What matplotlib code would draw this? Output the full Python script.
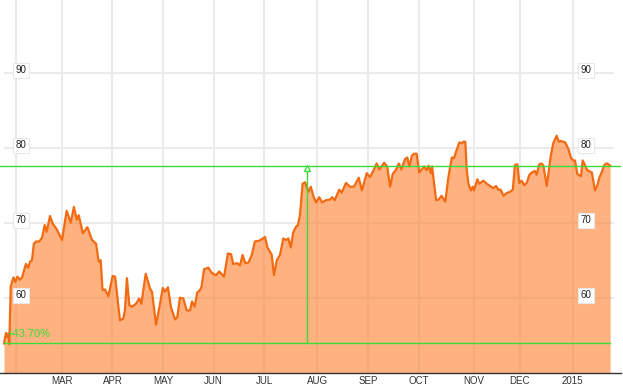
import matplotlib
matplotlib.use("Agg")
import matplotlib.pyplot as plt

plt.rcParams['font.family'] = ['Liberation Sans', 'DejaVu Sans']

# price series, x = trading day index (day 0 ~ late Jan 2014)
days = [0.0, 0.8, 1.4, 1.8, 2.2, 2.8, 3.9, 4.7, 5.5, 6.6, 7.5, 8.3, 9.1, 10.0, 10.8,
        11.6, 12.4, 13.3, 14.6, 15.8, 16.9, 17.7, 19.1, 20.2, 21.9, 24.1, 26.0, 27.7,
        29.0, 30.2, 31.0, 32.7, 34.6, 36.5, 38.2, 39.3, 40.1, 40.9, 41.9, 43.3, 45.1,
        46.1, 48.1, 49.5, 50.2, 51.0, 52.0, 53.1, 54.8, 56.1, 57.0, 58.8, 60.6, 61.4,
        63.1, 64.4, 65.9, 66.8, 68.0, 69.3, 71.0, 71.9, 73.0, 74.4, 75.8, 77.2, 78.0,
        79.1, 80.2, 81.3, 82.0, 83.0, 84.8, 86.2, 88.0, 89.3, 91.3, 92.9, 94.2, 95.1,
        96.8, 97.9, 99.0, 100.1, 101.5, 102.8, 104.1, 105.9, 106.9, 108.3, 109.3,
        111.1, 112.0, 113.2, 114.5, 115.9, 117.0, 118.0, 119.0, 120.0, 121.2, 121.9,
        122.8, 123.9, 124.9, 126.3, 127.3, 128.3, 129.5, 130.8, 132.0, 133.6, 135.3,
        136.1, 137.2, 139.1, 140.1, 141.9, 143.6, 145.2, 147.2, 148.5, 150.5, 151.9,
        153.5, 154.6, 155.7, 156.7, 157.7, 159.0, 160.2, 161.3, 162.7, 163.8, 164.9,
        166.4, 167.3, 168.2, 169.2, 170.1, 171.2, 172.3, 173.3, 174.3, 175.4, 176.2,
        177.1, 177.6, 179.3, 180.4, 181.5, 183.1, 184.4, 185.8, 186.7, 187.6, 188.9,
        189.9, 190.6, 191.4, 192.0, 192.7, 193.7, 194.5, 195.0, 196.4, 197.2, 198.9,
        200.3, 201.7, 203.0, 204.1, 205.1, 206.1, 207.2, 208.8, 209.9, 211.1, 212.0,
        213.0, 213.8, 214.8, 215.8, 216.9, 218.0, 219.0, 220.3, 221.0, 222.1, 223.1,
        223.8, 225.2, 226.8, 227.9, 229.3, 230.2, 231.0, 232.1, 232.9, 234.2, 235.3,
        236.2, 236.9, 237.9, 239.4, 240.1, 241.2, 242.0, 243.9, 245.2, 246.2, 247.0,
        248.1, 248.9, 249.8, 250.4, 251.5]
prices = [53.9, 55.3, 54.8, 55.2, 53.8, 61.5, 62.7, 62.1, 62.8, 62.4, 62.7, 63.6, 64.5,
          64.0, 64.8, 65.0, 67.2, 67.5, 67.5, 68.0, 69.7, 68.8, 70.9, 69.9, 69.1, 67.7,
          71.6, 70.0, 72.1, 70.4, 71.0, 68.6, 69.4, 67.7, 67.2, 64.8, 65.0, 61.0, 61.1,
          60.2, 62.9, 62.8, 57.0, 57.2, 58.4, 62.6, 59.0, 58.8, 59.2, 59.9, 59.2, 63.2,
          61.2, 60.8, 56.4, 58.6, 61.3, 60.8, 61.4, 58.7, 57.1, 57.4, 60.0, 59.9, 58.3,
          58.3, 59.5, 58.8, 60.7, 61.0, 61.5, 63.8, 64.0, 63.3, 63.0, 63.5, 62.8, 65.9,
          65.8, 64.5, 64.6, 64.3, 65.7, 64.6, 64.7, 65.7, 67.5, 67.6, 67.8, 68.1, 66.7,
          65.7, 63.0, 65.0, 65.7, 67.9, 67.7, 67.9, 66.7, 68.7, 69.5, 69.6, 71.0, 75.2,
          75.4, 74.1, 74.8, 73.6, 72.7, 73.4, 72.7, 73.0, 73.1, 73.4, 73.0, 74.4, 74.0,
          75.3, 74.8, 74.8, 76.0, 74.3, 76.6, 76.1, 77.1, 77.9, 77.1, 77.5, 78.0, 77.5,
          74.8, 76.5, 77.1, 77.9, 77.1, 78.5, 78.7, 77.5, 78.9, 79.2, 79.2, 76.7, 77.1,
          77.5, 77.0, 77.6, 76.6, 77.5, 73.0, 73.1, 73.6, 72.8, 76.1, 78.7, 78.6, 79.5,
          80.7, 80.6, 80.8, 80.8, 77.0, 75.2, 74.3, 74.8, 74.3, 75.8, 75.2, 75.6, 75.2,
          74.9, 74.6, 74.9, 74.4, 74.4, 73.6, 74.0, 74.1, 74.4, 77.7, 77.8, 75.3, 75.6,
          75.0, 75.3, 76.4, 76.7, 76.9, 76.4, 77.8, 77.9, 77.6, 74.9, 78.8, 80.6, 81.6,
          80.8, 80.9, 80.8, 80.7, 79.8, 78.6, 78.3, 78.3, 76.5, 76.2, 78.3, 77.6, 77.0,
          76.7, 74.3, 75.0, 76.0, 76.8, 77.6, 77.9, 77.9, 77.6]

month_pos = [5, 24, 45, 66, 87, 108, 130, 151, 172, 195, 214, 236]
month_labels = ['', 'MAR', 'APR', 'MAY', 'JUN', 'JUL', 'AUG', 'SEP', 'OCT', 'NOV', 'DEC', '2015']
y_ticks = [60, 70, 80, 90]

base_price = prices[0]
last_price = prices[-1]
marker_day = 125.7
change_label = '+43.70%'

GREEN = '#38dc38'
GRID = '#ebebeb'

fig = plt.figure(figsize=(6.23, 3.87), dpi=100)
ax = fig.add_axes([0.0, 0.037, 621 / 623, 0.963])
ax.set_xlim(-1.66, 256.0)
ax.set_ylim(50, 99.7)

# grid
for p in month_pos:
    ax.axvline(p, color=GRID, lw=1.5, zorder=0)
for v in y_ticks:
    ax.axhline(v, xmin=0.008, xmax=0.987, color=GRID, lw=1.5, zorder=0)

ax.fill_between(days, prices, 50, color='#ff7f2a', alpha=0.6, lw=0, zorder=1)
ax.plot(days, prices, color='#f26a12', lw=1.6, zorder=2)

# reference lines
ax.axhline(last_price, color=GREEN, lw=1, zorder=3)
ax.plot([days[0], days[-1]], [base_price, base_price], color=GREEN, lw=1, zorder=3)
ax.plot([marker_day, marker_day], [base_price, last_price], color=GREEN, lw=1, zorder=3)
ax.plot(marker_day, last_price - 0.35, marker='^', ms=5, mfc='white', mec=GREEN, mew=1, zorder=4)
ax.text(days[0] + 1.2, base_price + 1.25, change_label, color=GREEN,
        fontsize=8, va='center', ha='left', zorder=5)

# y labels in little boxes on both sides
box = dict(boxstyle='square,pad=0.25', fc='white', ec='#e8e8e8', lw=0.8)
for v in y_ticks:
    for xf in (0.034, 0.944):
        ax.text(xf, v + 0.3, str(v), transform=ax.get_yaxis_transform(), fontsize=7,
                ha='center', va='center', color='#222222', bbox=box, zorder=6)

ax.set_yticks([])
ax.set_xticks(month_pos)
ax.set_xticklabels(month_labels, fontsize=7, color='#333333')
ax.tick_params(axis='x', length=0, pad=2.5)
for s in ['top', 'left', 'right']:
    ax.spines[s].set_visible(False)
ax.spines['bottom'].set_color('#333333')
ax.spines['bottom'].set_linewidth(1)

fig.savefig('out.png', dpi=100)
